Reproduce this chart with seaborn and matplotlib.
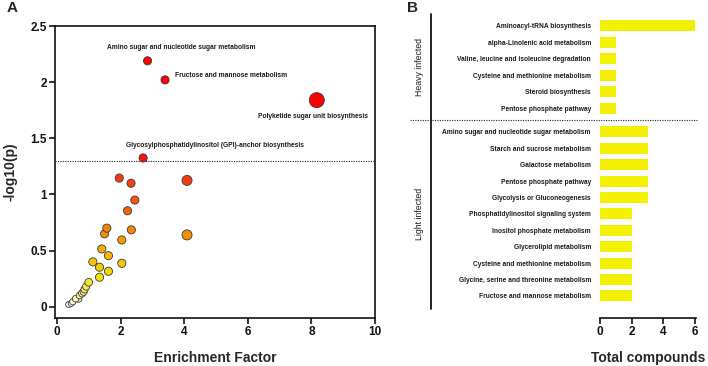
import numpy as np
import pandas as pd
import matplotlib
matplotlib.use('Agg')
import matplotlib.pyplot as plt
import matplotlib.transforms as mtransforms
from matplotlib import font_manager
from matplotlib.colors import LinearSegmentedColormap
from matplotlib.lines import Line2D
from matplotlib.ticker import FuncFormatter
import seaborn as sns

# ---- panel A: pathway enrichment ----
enrichment = [2.85, 3.40, 8.17, 2.71, 1.96, 2.33, 4.09, 2.45, 2.22, 1.57, 1.50,
              2.34, 4.09, 2.04, 1.41, 1.62, 1.13, 2.04, 1.34, 1.62, 1.34, 1.00,
              0.92, 0.87, 0.84, 0.79, 0.71, 0.68, 0.59, 0.50, 0.45, 0.37]
neglogp = [2.19, 2.02, 1.84, 1.325, 1.146, 1.10, 1.125, 0.95, 0.855, 0.70, 0.65,
           0.685, 0.64, 0.595, 0.515, 0.455, 0.40, 0.387, 0.352, 0.316, 0.263, 0.218,
           0.18, 0.155, 0.134, 0.12, 0.10, 0.07, 0.072, 0.045, 0.03, 0.02]
impact = [0.04, 0.04, 0.25, 0.04, 0.04, 0.04, 0.085, 0.04, 0.04, 0.04, 0.04,
          0.04, 0.085, 0.04, 0.04, 0.04, 0.04, 0.04, 0.04, 0.04, 0.04, 0.03,
          0.02, 0.02, 0.02, 0.02, 0.01, 0.01, 0.01, 0.005, 0.0, 0.0]
pathway_labels = {
    0: 'Amino sugar and nucleotide sugar metabolism',
    1: 'Fructose and mannose metabolism',
    2: 'Polyketide sugar unit biosynthesis',
    3: 'Glycosylphosphatidylinositol (GPI)-anchor biosynthesis',
}
p_cutoff = 1.3

# ---- panel B: total compounds per pathway ----
heavy_pathways = ['Aminoacyl-tRNA biosynthesis', 'alpha-Linolenic acid metabolism',
                  'Valine, leucine and isoleucine degradation', 'Cysteine and methionine metabolism',
                  'Steroid biosynthesis', 'Pentose phosphate pathway']
heavy_counts = [6, 1, 1, 1, 1, 1]
light_pathways = ['Amino sugar and nucleotide sugar metabolism', 'Starch and sucrose metabolism',
                  'Galactose metabolism', 'Pentose phosphate pathway', 'Glycolysis or Gluconeogenesis',
                  'Phosphatidylinositol signaling system', 'Inositol phosphate metabolism',
                  'Glycerolipid metabolism', 'Cysteine and methionine metabolism',
                  'Glycine, serine and threonine metabolism', 'Fructose and mannose metabolism']
light_counts = [3, 3, 3, 3, 3, 2, 2, 2, 2, 2, 2]

sns.set_style('ticks')
plt.rcParams['font.family'] = ['Liberation Sans', 'DejaVu Sans']
plt.rcParams['font.weight'] = 'bold'

# small pathway labels look condensed in the original; use a narrow face if one is there
installed = {f.name for f in font_manager.fontManager.ttflist}
if 'Liberation Sans Narrow' in installed:
    small_font, small_size = ['Liberation Sans Narrow', 'Liberation Sans'], 5.3
else:
    small_font, small_size = ['Liberation Sans', 'DejaVu Sans'], 4.8

fig = plt.figure(figsize=(7.08, 3.66), dpi=100)
W, H = 708, 366

def px_axes(l, t, r, b):
    return fig.add_axes([l / W, 1 - b / H, (r - l) / W, (b - t) / H])

# ---------- A ----------
ax = px_axes(55, 26, 375, 318)
df_a = pd.DataFrame({'ef': enrichment, 'p': neglogp, 'impact': impact})
df_a = df_a.sort_values('p')
cmap = LinearSegmentedColormap.from_list('wyr', [
    (0.0, '#FFFFFF'), (0.12 / 1.4, '#F8F090'), (0.25 / 1.4, '#F2E400'),
    (0.45 / 1.4, '#F2BC00'), (0.65 / 1.4, '#F28E00'), (0.9 / 1.4, '#F05A10'),
    (1.15 / 1.4, '#F03A12'), (1.0, '#FF0000')])
sns.scatterplot(data=df_a, x='ef', y='p', hue='p', size='impact', palette=cmap,
                hue_norm=(0, 1.4), sizes=(19, 117), size_norm=(0, 0.25),
                edgecolor='#3a3a3a', linewidth=0.6, legend=False, ax=ax, zorder=3)
ax.axhline(p_cutoff, color='#222222', lw=0.8, ls=(0, (1, 1.2)), zorder=1)

offsets = {0: ((24, 9.5), 'center'), 1: ((7.5, 3.5), 'left'),
           2: ((-2.5, -11.5), 'center'), 3: ((52, 8.8), 'center')}
for i, name in pathway_labels.items():
    (dx, dy), ha = offsets[i]
    ax.annotate(name, (enrichment[i], neglogp[i]), xytext=(dx, dy), textcoords='offset points',
                ha=ha, va='center', fontsize=small_size, family=small_font, weight='bold',
                color='#1a1a1a')

ax.set_xlim(-0.06, 10)
ax.set_ylim(-0.1, 2.5)
ax.set_xticks([0, 2, 4, 6, 8, 10])
ax.set_yticks([0, 0.5, 1, 1.5, 2, 2.5])
ax.yaxis.set_major_formatter(FuncFormatter(lambda v, _: f'{v:g}'))
for s in ax.spines.values():
    s.set_linewidth(1.2)
    s.set_color('#111111')
ax.tick_params(length=4, width=1.2, labelsize=8.5, pad=2, colors='#111111')
ax.set_xlabel('Enrichment Factor', fontsize=10, weight='bold', labelpad=9)
ax.set_ylabel('-log10(p)', fontsize=10, weight='bold', labelpad=9)

# ---------- B ----------
gap = 1.45
pos_heavy = np.arange(len(heavy_counts))
pos_light = np.arange(len(light_counts)) + len(heavy_counts) + gap - 1
positions = np.concatenate([pos_heavy, pos_light])
names = heavy_pathways + light_pathways
counts = heavy_counts + light_counts

axb = px_axes(600, 14, 696, 318)
sns.barplot(x=counts, y=positions, orient='h', native_scale=True, color='#F2F000',
            saturation=1, width=0.67, errorbar=None, linewidth=0, ax=axb)
axb.set_ylim(17.8, -0.73)
axb.set_xlim(0, 6.05)
axb.set_xticks([0, 2, 4, 6])
axb.set_yticks(positions)
axb.set_yticklabels(names, fontsize=small_size, family=small_font, weight='bold', color='#1a1a1a')
axb.tick_params(axis='y', length=0, pad=6.5)
axb.tick_params(axis='x', length=4, width=1.2, labelsize=8.5, pad=2, colors='#111111')
for side in ['left', 'top', 'right']:
    axb.spines[side].set_visible(False)
axb.spines['bottom'].set_linewidth(1.2)
axb.spines['bottom'].set_color('#111111')
axb.set_xlabel('Total compounds', fontsize=10, weight='bold', labelpad=9)
axb.set_ylabel('')

blend = mtransforms.blended_transform_factory(fig.transFigure, axb.transData)
sep = (pos_heavy[-1] + pos_light[0]) / 2
fig.add_artist(Line2D([410 / W, 698 / W], [sep, sep], transform=blend,
                      color='#222222', lw=0.8, ls=(0, (1, 1.2))))
fig.add_artist(Line2D([431 / W, 431 / W], [-0.73, 17.25], transform=blend,
                      color='#111111', lw=1.3))
fig.text(420 / W, pos_heavy.mean(), 'Heavy infected', transform=blend, rotation=90,
         ha='center', va='center', fontsize=6.3, weight='normal', color='#1a1a1a')
fig.text(420 / W, pos_light.mean(), 'Light infected', transform=blend, rotation=90,
         ha='center', va='center', fontsize=6.3, weight='normal', color='#1a1a1a')

fig.text(12 / W, 1 - 8 / H, 'A', fontsize=11, weight='bold', ha='center', va='center')
fig.text(413 / W, 1 - 8 / H, 'B', fontsize=11, weight='bold', ha='center', va='center')

fig.savefig('out.png', dpi=100)
